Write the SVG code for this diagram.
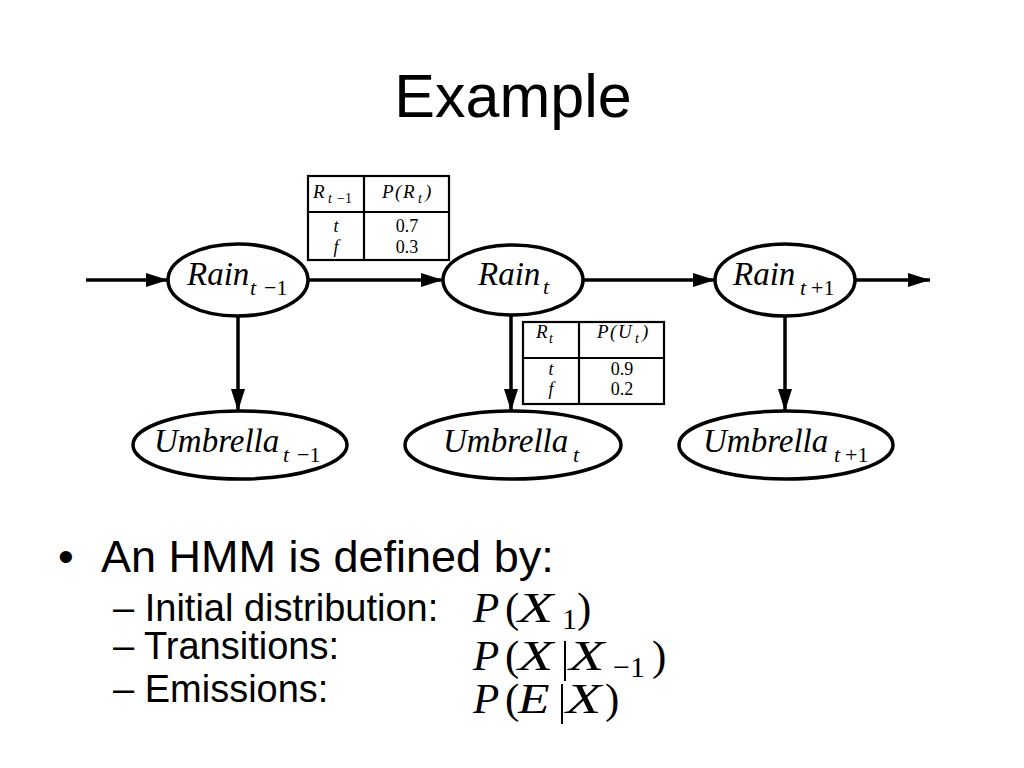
<svg xmlns="http://www.w3.org/2000/svg" width="1024" height="768" viewBox="0 0 1024 768">
<style>
.sans{font-family:"Liberation Sans",Arial,sans-serif;fill:#000}
.ser{font-family:"Liberation Serif","Times New Roman",serif;fill:#000}
.it{font-style:italic}
.up{font-style:normal}
.node{fill:#fff;stroke:#000;stroke-width:3.5}
.edge{stroke:#000;stroke-width:3.5;fill:none}
.tbl{fill:#fff;stroke:#000;stroke-width:2.2}
.tl{stroke:#000;stroke-width:2.2}
.lbl{font-size:33px}
.sub{font-size:22px}
.tt{font-size:19px;letter-spacing:1.5px}
.ts{font-size:14px;letter-spacing:0}
.tv{font-size:18px}
.m{font-size:43px}
.ms{font-size:30px}
</style>
<defs>
<marker id="ah" markerUnits="userSpaceOnUse" markerWidth="24" markerHeight="16" refX="22" refY="7" orient="auto">
<path d="M0,0 L22,7 L0,14 z" fill="#000"/>
</marker>
</defs>
<rect width="1024" height="768" fill="#fff"/>
<text class="sans" x="513" y="117" font-size="61" text-anchor="middle">Example</text>

<g id="connectors">
<line class="edge" x1="86" y1="280" x2="168" y2="280" marker-end="url(#ah)"/>
<line class="edge" x1="309" y1="280" x2="443" y2="280" marker-end="url(#ah)"/>
<line class="edge" x1="583" y1="280" x2="715" y2="280" marker-end="url(#ah)"/>
<line class="edge" x1="856" y1="280" x2="930" y2="280" marker-end="url(#ah)"/>
<line class="edge" x1="238" y1="316" x2="238" y2="411" marker-end="url(#ah)"/>
<line class="edge" x1="511" y1="315" x2="511" y2="411" marker-end="url(#ah)"/>
<line class="edge" x1="785" y1="316" x2="785" y2="411" marker-end="url(#ah)"/>
</g>

<g id="cpt-rain">
<rect class="tbl" x="308" y="176" width="141" height="84"/>
<line class="tl" x1="364" y1="176" x2="364" y2="260"/>
<line class="tl" x1="308" y1="212" x2="449" y2="212"/>
<text class="ser it tt" x="313" y="198">R<tspan class="ts" x="328" y="203">t</tspan><tspan class="ts up" x="337" y="203">−1</tspan></text>
<text class="ser it tt" x="382" y="198">P(R<tspan class="ts" x="418" y="203">t</tspan><tspan x="425" y="198">)</tspan></text>
<text class="ser it tv" x="336" y="232" text-anchor="middle">t</text>
<text class="ser it tv" x="336" y="253" text-anchor="middle">f</text>
<text class="ser tv" x="407" y="232" text-anchor="middle">0.7</text>
<text class="ser tv" x="407" y="253" text-anchor="middle">0.3</text>
</g>

<g id="cpt-umbrella">
<rect class="tbl" x="523" y="322" width="141" height="82"/>
<line class="tl" x1="579" y1="322" x2="579" y2="404"/>
<line class="tl" x1="523" y1="358" x2="664" y2="358"/>
<text class="ser it tt" x="536" y="338">R<tspan class="ts" x="549" y="343">t</tspan></text>
<text class="ser it tt" x="597" y="338">P(U<tspan class="ts" x="635" y="343">t</tspan><tspan x="642" y="338">)</tspan></text>
<text class="ser it tv" x="551" y="375" text-anchor="middle">t</text>
<text class="ser it tv" x="551" y="395" text-anchor="middle">f</text>
<text class="ser tv" x="622" y="375" text-anchor="middle">0.9</text>
<text class="ser tv" x="622" y="395" text-anchor="middle">0.2</text>
</g>

<g id="rain-tm1">
<ellipse class="node" cx="238" cy="280" rx="70" ry="36"/>
<text class="ser it lbl" x="187" y="285">Rain<tspan class="sub" x="250" y="295">t</tspan><tspan class="sub up" x="264" y="295">−1</tspan></text>
</g>
<g id="rain-t">
<ellipse class="node" cx="513" cy="280" rx="70" ry="35"/>
<text class="ser it lbl" x="478" y="285">Rain<tspan class="sub" x="543" y="294">t</tspan></text>
</g>
<g id="rain-tp1">
<ellipse class="node" cx="785" cy="280" rx="70" ry="36"/>
<text class="ser it lbl" x="733" y="285">Rain<tspan class="sub" x="800" y="295">t</tspan><tspan class="sub up" x="811" y="295">+1</tspan></text>
</g>
<g id="umbrella-tm1">
<ellipse class="node" cx="240" cy="445" rx="107" ry="34"/>
<text class="ser it lbl" x="154" y="452">Umbrella<tspan class="sub" x="283" y="462">t</tspan><tspan class="sub up" x="297" y="462">−1</tspan></text>
</g>
<g id="umbrella-t">
<ellipse class="node" cx="513" cy="445" rx="108" ry="34"/>
<text class="ser it lbl" x="443" y="452">Umbrella<tspan class="sub" x="573" y="462">t</tspan></text>
</g>
<g id="umbrella-tp1">
<ellipse class="node" cx="786" cy="445" rx="107" ry="34"/>
<text class="ser it lbl" x="703" y="452">Umbrella<tspan class="sub" x="834" y="462">t</tspan><tspan class="sub up" x="845" y="462">+1</tspan></text>
</g>

<g id="bullets">
<text class="sans" x="58" y="572" font-size="45">•</text>
<text class="sans" x="101" y="572" font-size="45">An HMM is defined by:</text>
<text class="sans" x="113" y="621" font-size="38">– Initial distribution:</text>
<text class="sans" x="113" y="659" font-size="38">– Transitions:</text>
<text class="sans" x="113" y="702" font-size="38">– Emissions:</text>
</g>

<g id="math">
<text class="ser it m" x="473" y="622">P<tspan class="up" x="505">(</tspan><tspan class="up ms" x="562" y="629">1</tspan><tspan class="up" x="577" y="622">)</tspan></text>
<text class="ser it m" transform="translate(518,622) scale(1.35,1)">X</text>

<text class="ser it m" x="473" y="670">P<tspan class="up" x="505">(</tspan><tspan class="up ms" x="613" y="677">−1</tspan><tspan class="up" x="652" y="670">)</tspan></text>
<text class="ser it m" transform="translate(518,670) scale(1.35,1)">X</text>
<line x1="565" y1="641" x2="565" y2="681" stroke="#000" stroke-width="2"/>
<text class="ser it m" transform="translate(569,670) scale(1.35,1)">X</text>

<text class="ser it m" x="473" y="713">P<tspan class="up" x="505">(</tspan><tspan class="up" x="605">)</tspan></text>
<text class="ser it m" transform="translate(518,713) scale(1.2,1)">E</text>
<line x1="562" y1="684" x2="562" y2="724" stroke="#000" stroke-width="2"/>
<text class="ser it m" transform="translate(566,713) scale(1.35,1)">X</text>
</g>
</svg>
